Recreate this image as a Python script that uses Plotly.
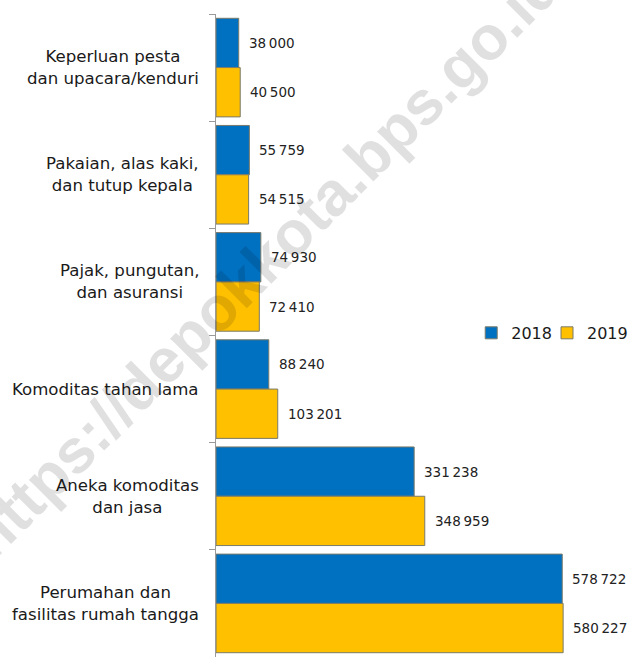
import plotly.graph_objects as go

categories = [
    "Keperluan pesta<br>dan upacara/kenduri",
    "Pakaian, alas kaki,<br>dan tutup kepala",
    "Pajak, pungutan,<br>dan asuransi",
    "Komoditas tahan lama",
    "Aneka komoditas<br>dan jasa",
    "Perumahan dan<br>fasilitas rumah tangga",
]
values_2018 = [38000, 55759, 74930, 88240, 331238, 578722]
values_2019 = [40500, 54515, 72410, 103201, 348959, 580227]
series_names = ["2018", "2019"]

BLUE = "#0070C0"
GOLD = "#FFC000"
FONT = "DejaVu Sans"

W, H = 633, 659
L, R, T, B = 216, 0, 14, 2
BARGAP = 0.08


def fmt(v):
    return f"{v:,}".replace(",", "\u2009")


fig = go.Figure()
for name, vals, col, lg in [(series_names[0], values_2018, BLUE, "legend"),
                            (series_names[1], values_2019, GOLD, "legend2")]:
    fig.add_trace(go.Bar(
        y=categories, x=vals, name=name, orientation="h", legend=lg,
        marker=dict(color=col, line=dict(color="#7a7a6a", width=1)),
        hoverinfo="skip",
    ))

band = (H - T - B) / len(categories)
bar_w = band * (1 - BARGAP) / 2
annotations = []

# watermark
annotations.append(dict(
    text="<b>https://depokkota.bps.go.id</b>", xref="paper", yref="paper",
    x=0.115, y=0.617, xanchor="center", yanchor="middle", textangle=-45,
    showarrow=False, font=dict(family="Liberation Sans", size=62, color="rgba(0,0,0,0.12)"),
))

# category labels
for c in categories:
    annotations.append(dict(
        text=c, x=0, y=c, xref="x", yref="y", xanchor="right", yanchor="middle",
        xshift=-15, showarrow=False, align="center",
        font=dict(family=FONT, size=16.6, color="#1a1a1a"),
    ))

# value labels
for vals, shift in [(values_2018, bar_w / 2), (values_2019, -bar_w / 2)]:
    for c, v in zip(categories, vals):
        annotations.append(dict(
            text=fmt(v), x=v, y=c, xref="x", yref="y", xanchor="left", yanchor="middle",
            xshift=8, yshift=shift, showarrow=False,
            font=dict(family=FONT, size=13.5, color="#222222"),
        ))

legend_style = dict(orientation="h", y=0.504, yanchor="middle",
                    bgcolor="rgba(0,0,0,0)", itemwidth=30,
                    font=dict(family=FONT, size=16, color="#1a1a1a"))

fig.update_layout(
    width=W, height=H,
    margin=dict(l=L, r=R, t=T, b=B, pad=0, autoexpand=False),
    paper_bgcolor="white", plot_bgcolor="white",
    barmode="group", bargap=BARGAP, bargroupgap=0,
    font=dict(family=FONT, size=16, color="#1a1a1a"),
    showlegend=True,
    legend=dict(x=0.612, xanchor="left", **legend_style),
    legend2=dict(x=1.0, xanchor="right", **legend_style),
    xaxis=dict(range=[0, 697000], visible=False, fixedrange=True),
    yaxis=dict(autorange="reversed", showticklabels=False, ticks="outside", ticklen=6,
               tickcolor="#9a9a9a", tickson="boundaries", showline=True, linecolor="#9a9a9a",
               linewidth=1, showgrid=False, zeroline=False, fixedrange=True),
    annotations=annotations,
)

fig.write_html("out.html", config={"displayModeBar": False},
               post_script="document.body.style.margin='0';document.body.style.overflow='hidden';")
